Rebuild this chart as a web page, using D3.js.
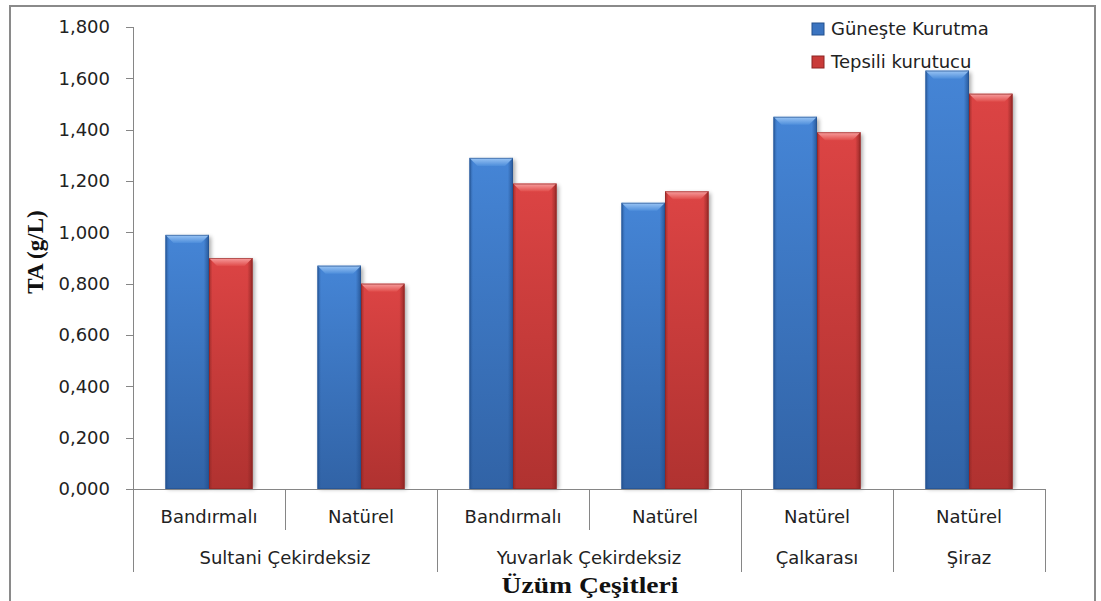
<!DOCTYPE html>
<html><head><meta charset="utf-8">
<script src="https://cdn.jsdelivr.net/npm/d3@7"></script>
<style>body{margin:0;background:#fff}svg{display:block}</style>
</head><body>
<svg id="c" width="1101" height="601"></svg>
<script>
// ---- data ----
const treatments = ["Bandırmalı","Natürel","Bandırmalı","Natürel","Natürel","Natürel"];
const varieties = ["Sultani Çekirdeksiz","Sultani Çekirdeksiz","Yuvarlak Çekirdeksiz","Yuvarlak Çekirdeksiz","Çalkarası","Şiraz"];
const seriesNames = ["Güneşte Kurutma","Tepsili kurutucu"];
const gunesteKurutma = [0.990,0.870,1.290,1.115,1.450,1.630];
const tepsiliKurutucu = [0.900,0.800,1.190,1.160,1.390,1.540];
const yTicks = [0,0.2,0.4,0.6,0.8,1.0,1.2,1.4,1.6,1.8];
const yTitle = "TA (g/L)";
const xTitle = "Üzüm Çeşitleri";

const svg = d3.select("#c");
const L = 133, R = 1045, T = 27, B = 489;
const ids = d3.range(treatments.length);
const x0 = d3.scaleBand().domain(ids).range([L, R]);
const x1 = d3.scaleBand().domain(seriesNames).range([0, x0.bandwidth()]).paddingOuter(0.747);
const y = d3.scaleLinear().domain([0, 1.8]).range([B, T]);
const fmt = v => d3.format(".3f")(v).replace(".", ",");
const axisCol = "#868686";
const font = "'DejaVu Sans', 'Noto Sans', sans-serif";
const serif = "'Liberation Serif','DejaVu Serif',serif";

// outer frame
svg.append("rect").attr("x",10).attr("y",6).attr("width",1085).attr("height",610)
  .attr("fill","#fff").attr("stroke","#8a8a8a").attr("stroke-width",2);

// defs
const defs = svg.append("defs");
const pal = {
  "Güneşte Kurutma": {top:"#4585d6", bot:"#3163a6", edge:"#23508e", bev1:"#9cc6f5", bev2:"#4e8edb", leg:"#3b74c0"},
  "Tepsili kurutucu": {top:"#dc4444", bot:"#b03230", edge:"#8c2523", bev1:"#f8a0a0", bev2:"#e04c4a", leg:"#c93b39"}
};
seriesNames.forEach((s,i)=>{
  const p = pal[s];
  const g = defs.append("linearGradient").attr("id","body"+i).attr("x1",0).attr("y1",0).attr("x2",0).attr("y2",1);
  g.append("stop").attr("offset","0%").attr("stop-color",p.top);
  g.append("stop").attr("offset","100%").attr("stop-color",p.bot);
  const h = defs.append("linearGradient").attr("id","side"+i).attr("x1",0).attr("y1",0).attr("x2",1).attr("y2",0);
  h.append("stop").attr("offset","0%").attr("stop-color",p.edge).attr("stop-opacity",0.7);
  h.append("stop").attr("offset","8%").attr("stop-color",p.edge).attr("stop-opacity",0);
  h.append("stop").attr("offset","88%").attr("stop-color",p.edge).attr("stop-opacity",0);
  h.append("stop").attr("offset","100%").attr("stop-color",p.edge).attr("stop-opacity",0.85);
  const bv = defs.append("linearGradient").attr("id","bev"+i).attr("x1",0).attr("y1",0).attr("x2",0).attr("y2",1);
  bv.append("stop").attr("offset","0%").attr("stop-color",p.bev1);
  bv.append("stop").attr("offset","100%").attr("stop-color",p.bev2);
});
const f = defs.append("filter").attr("id","sh").attr("x","-20%").attr("y","-5%").attr("width","150%").attr("height","115%");
f.append("feGaussianBlur").attr("stdDeviation",2);

// y axis
svg.append("line").attr("x1",L+0.5).attr("x2",L+0.5).attr("y1",T).attr("y2",B).attr("stroke",axisCol);
yTicks.forEach(t=>{
  svg.append("line").attr("x1",L-7).attr("x2",L).attr("y1",Math.round(y(t))+0.5).attr("y2",Math.round(y(t))+0.5).attr("stroke",axisCol);
  svg.append("text").attr("x",L-23).attr("y",y(t)).attr("dy","0.35em").attr("text-anchor","end")
    .attr("font-family",font).attr("font-size",18).attr("fill","#222").text(fmt(t));
});

// bars
const values = [gunesteKurutma, tepsiliKurutucu];
seriesNames.forEach((s,si)=>{
  const g = svg.append("g");
  ids.forEach(i=>{
    const xx = x0(i) + x1(s), w = x1.bandwidth(), yy = y(values[si][i]), h = B - yy;
    g.append("rect").attr("x",xx+2).attr("y",yy+2).attr("width",w).attr("height",h-2)
      .attr("fill","#000").attr("opacity",0.35).attr("filter","url(#sh)");
  });
});
seriesNames.forEach((s,si)=>{
  const g = svg.append("g");
  ids.forEach(i=>{
    const xx = x0(i) + x1(s), w = x1.bandwidth(), yy = y(values[si][i]), h = B - yy;
    g.append("rect").attr("x",xx).attr("y",yy).attr("width",w).attr("height",h).attr("fill",`url(#body${si})`);
    g.append("rect").attr("x",xx).attr("y",yy).attr("width",w).attr("height",h).attr("fill",`url(#side${si})`);
    const bh = 8;
    g.append("path").attr("d",`M${xx},${yy}L${xx+w},${yy}L${xx+w-bh},${yy+bh}L${xx+bh},${yy+bh}Z`).attr("fill",`url(#bev${si})`);
    g.append("rect").attr("x",xx+0.5).attr("y",yy+0.5).attr("width",w-1).attr("height",h-1)
      .attr("fill","none").attr("stroke",pal[s].edge).attr("stroke-opacity",0.6);
  });
});

// x axis
svg.append("line").attr("x1",L).attr("x2",R).attr("y1",B+0.5).attr("y2",B+0.5).attr("stroke",axisCol);
const bounds = ids.map(i=>x0(i)).concat([R]);
bounds.forEach((bx,k)=>{
  const isGroup = k===0 || k===bounds.length-1 || varieties[k]!==varieties[k-1];
  svg.append("line").attr("x1",Math.round(bx)+0.5).attr("x2",Math.round(bx)+0.5).attr("y1",B).attr("y2",isGroup?572:530).attr("stroke",axisCol);
});
ids.forEach(i=>{
  svg.append("text").attr("x",x0(i)+x0.bandwidth()/2).attr("y",517).attr("dy","0.35em").attr("text-anchor","middle")
    .attr("font-family",font).attr("font-size",18).attr("fill","#222").text(treatments[i]);
});
const groups = [];
ids.forEach(i=>{
  if (!groups.length || groups[groups.length-1].name!==varieties[i]) groups.push({name:varieties[i], a:x0(i), b:x0(i)+x0.bandwidth()});
  else groups[groups.length-1].b = x0(i)+x0.bandwidth();
});
groups.forEach(gp=>{
  svg.append("text").attr("x",(gp.a+gp.b)/2).attr("y",558).attr("dy","0.35em").attr("text-anchor","middle")
    .attr("font-family",font).attr("font-size",18).attr("fill","#222").text(gp.name);
});

// titles
svg.append("text").attr("x",590).attr("y",585).attr("dy","0.35em").attr("text-anchor","middle")
  .attr("font-family",serif).attr("font-weight","bold").attr("font-size",24).attr("fill","#111")
  .attr("textLength",177).attr("lengthAdjust","spacingAndGlyphs").text(xTitle);
svg.append("text").attr("transform","translate(35,252) rotate(-90)").attr("dy","0.35em").attr("text-anchor","middle")
  .attr("font-family",serif).attr("font-weight","bold").attr("font-size",23).attr("fill","#111").text(yTitle);

// legend
seriesNames.forEach((s,i)=>{
  const ly = 29 + i*33;
  svg.append("rect").attr("x",812).attr("y",ly-6).attr("width",12).attr("height",12).attr("fill",pal[s].leg)
    .attr("stroke",pal[s].edge).attr("stroke-width",1);
  svg.append("text").attr("x",831).attr("y",ly).attr("dy","0.35em").attr("font-family",font).attr("font-size",18)
    .attr("fill","#222").text(s);
});
</script>
</body></html>
